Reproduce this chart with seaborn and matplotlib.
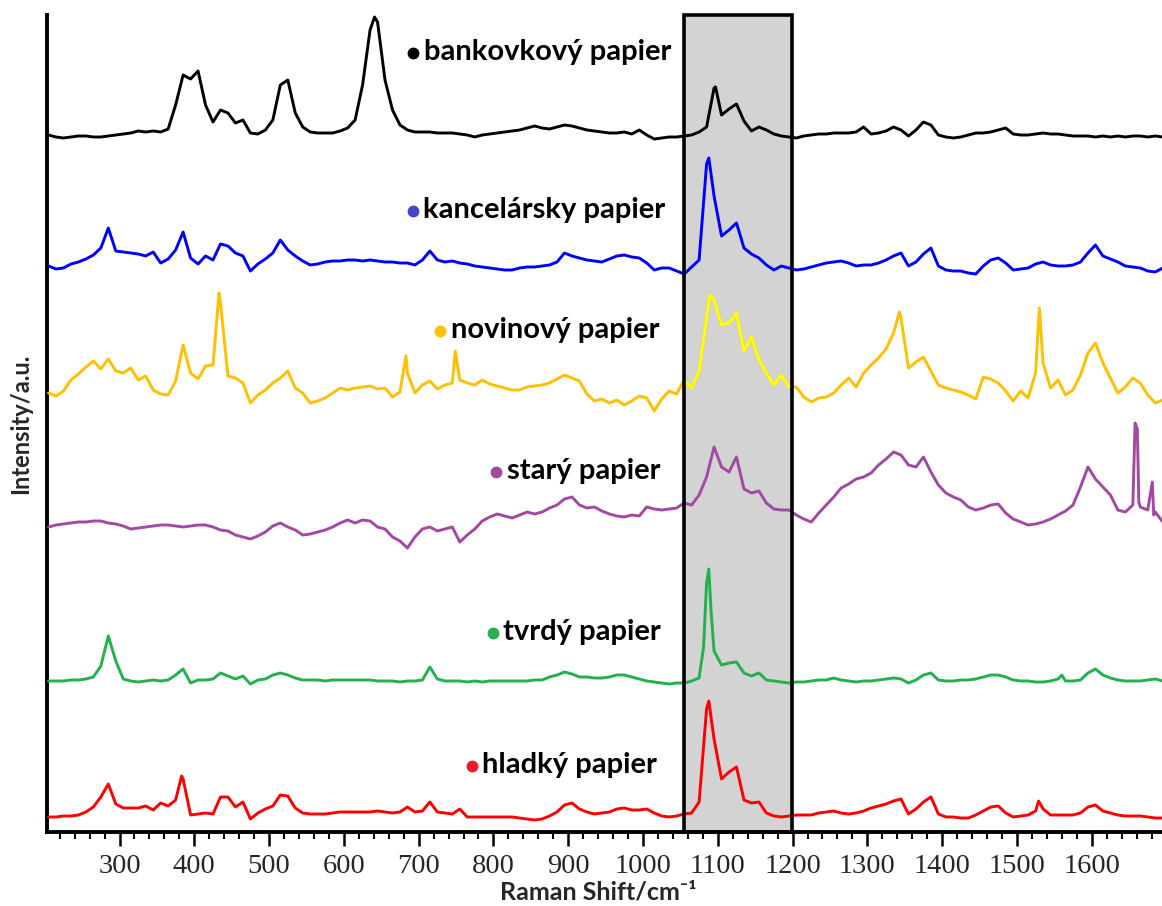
import numpy as np
import pandas as pd
import matplotlib
matplotlib.use("Agg")
import matplotlib.pyplot as plt
import seaborn as sns
from matplotlib.ticker import MultipleLocator

# Raman shift grid (cm^-1) shared by all spectra
shift = np.arange(205, 1700, 10)

labels = ["bankovkový papier", "kancelársky papier", "novinový papier",
          "starý papier", "tvrdý papier", "hladký papier"]

# Baseline-corrected intensities (a.u.) on the shared grid, one list per paper
bankovkovy = [
    0, -2, -3, -2, -1, -1, -2, -2, -1, 0,
    1, 2, 4, 3, 4, 3, 6, 30, 60, 56,
    64, 30, 13, 25, 22, 12, 15, 2, 1, 5,
    15, 50, 55, 22, 8, 3, 2, 2, 2, 4,
    7, 15, 50, 105, 113, 55, 25, 10, 5, 3,
    3, 3, 2, 2, 2, 1, 0, -2, 0, 1,
    2, 3, 4, 5, 7, 9, 7, 6, 8, 10,
    9, 7, 5, 4, 3, 2, 2, 3, 1, 5,
    0, -4, -3, -2, -2, -1, 0, 3, 8, 47,
    20, 26, 31, 14, 4, 8, 5, 1, -1, -2,
    -3, -1, 0, 1, 1, 2, 2, 2, 3, 8,
    1, 2, 4, 8, 5, -1, 5, 13, 10, 0,
    -2, -3, -2, 0, 2, 2, 3, 5, 7, 1,
    0, 0, 1, 2, 1, 1, 0, -1, -1, -1,
    -2, -1, -2, -1, -2, -1, -1, -2, -1, -2,
]
kancelarsky = [
    2, -1, 0, 4, 6, 9, 13, 20, 40, 17,
    16, 15, 14, 12, 16, 5, 9, 18, 36, 10,
    4, 12, 8, 24, 22, 15, 12, -3, 4, 9,
    15, 28, 18, 12, 7, 3, 4, 6, 7, 7,
    8, 8, 7, 8, 7, 6, 6, 5, 5, 3,
    8, 17, 8, 6, 7, 5, 4, 2, 1, 0,
    -1, -2, -2, 0, 1, 1, 2, 3, 6, 15,
    12, 10, 8, 7, 6, 9, 12, 13, 11, 10,
    5, -2, 0, 0, -3, -6, 1, 8, 104, 72,
    32, 38, 45, 20, 14, 10, 3, -2, 2, 0,
    -2, -1, 1, 3, 5, 6, 7, 5, 2, 3,
    3, 5, 8, 12, 15, 2, 6, 14, 20, 2,
    -2, -3, -3, -5, -6, 2, 8, 10, 5, -2,
    -1, 0, 4, 6, 3, 2, 2, 3, 6, 15,
    23, 12, 9, 6, 2, 1, 0, -3, -4, 0,
]
novinovy = [
    0, -3, 2, 13, 19, 26, 32, 24, 34, 22,
    20, 25, 13, 17, 3, -1, -2, 12, 48, 20,
    14, 27, 28, 90, 17, 15, 10, -10, -2, 3,
    10, 15, 22, 5, 0, -10, -8, -5, 0, 5,
    3, 5, 6, 7, 4, 5, -4, 1, 20, 0,
    8, 12, 4, 8, 10, 13, 10, 8, 13, 9,
    7, 5, 3, 3, 6, 7, 8, 10, 14, 18,
    15, 12, -1, -8, -6, -10, -7, -12, -8, -3,
    -5, -18, -6, 2, -1, 13, 5, 22, 75, 93,
    68, 70, 80, 42, 56, 33, 20, 8, 18, 6,
    6, -4, -9, -5, -4, 0, 8, 15, 6, 20,
    28, 35, 44, 60, 75, 25, 31, 36, 22, 8,
    5, 3, 1, -2, -6, 16, 14, 10, 2, -8,
    2, -5, 20, 30, 5, 13, -2, 3, 18, 40,
    50, 30, 15, 0, 6, 15, 10, -2, -10, -7,
]
stary = [
    0, 2, 3, 4, 5, 5, 6, 6, 4, 3,
    1, -2, -1, 0, 1, 2, 2, 1, 0, 1,
    2, 2, 0, -3, -4, -8, -10, -12, -9, -5,
    1, 4, 0, -3, -8, -7, -5, -3, 0, 4,
    7, 4, 7, 6, 0, -2, -10, -14, -21, -10,
    -2, 0, -4, -2, 0, -15, -8, -2, 6, 10,
    13, 11, 9, 12, 15, 13, 15, 19, 22, 28,
    30, 22, 19, 20, 16, 13, 11, 10, 12, 11,
    20, 18, 17, 18, 19, 24, 22, 32, 50, 80,
    60, 55, 70, 38, 34, 36, 24, 18, 17, 17,
    12, 8, 5, 14, 22, 30, 39, 43, 48, 50,
    54, 62, 68, 75, 72, 62, 60, 70, 55, 42,
    34, 30, 27, 20, 17, 19, 22, 23, 14, 8,
    5, 2, 3, 5, 8, 12, 16, 22, 40, 60,
    48, 40, 32, 17, 15, 22, 20, 17, 15, 5,
]
tvrdy = [
    0, 0, 0, 1, 1, 2, 4, 15, 45, 20,
    2, 0, -1, 0, 1, 0, 1, 6, 12, -2,
    1, 1, 2, 8, 5, 2, 5, -3, 1, 2,
    6, 8, 6, 3, 1, 1, 1, 0, 1, 1,
    1, 1, 1, 1, 0, 0, 0, -1, 0, 0,
    1, 14, 2, 0, 0, 0, -1, 0, -1, 0,
    0, 0, 0, 0, 0, 1, 1, 4, 6, 9,
    7, 4, 4, 3, 3, 4, 6, 6, 4, 2,
    0, -1, -2, -3, -2, -2, 0, 3, 98, 30,
    16, 18, 19, 8, 5, 8, 1, 0, -1, -2,
    -1, -1, 0, 1, 1, 3, 1, 0, -1, 0,
    0, 1, 2, 3, 2, -2, 1, 6, 8, 1,
    0, 0, 1, 1, 2, 4, 6, 6, 4, 1,
    0, 0, -1, -1, 0, 2, 0, 0, 1, 8,
    12, 6, 3, 1, 0, 0, 0, 1, 2, 0,
]
hladky = [
    0, 0, 1, 1, 2, 5, 10, 20, 33, 13,
    9, 9, 9, 11, 7, 14, 11, 17, 38, 2,
    3, 4, 3, 20, 20, 10, 15, -2, 4, 8,
    11, 22, 21, 9, 4, 3, 3, 3, 4, 5,
    5, 5, 5, 5, 6, 5, 4, 5, 10, 5,
    6, 15, 5, 4, 3, 8, 0, 0, 0, 0,
    0, 0, 0, -1, -2, -3, -2, 1, 5, 12,
    14, 8, 5, 3, 4, 5, 8, 9, 7, 7,
    8, 4, 1, 0, 1, 3, 4, 15, 108, 78,
    38, 45, 50, 17, 14, 15, 4, 1, 0, 1,
    2, 2, 2, 4, 5, 6, 4, 3, 4, 6,
    9, 11, 13, 16, 18, 3, 8, 15, 20, 3,
    0, 0, -1, -1, 2, 6, 10, 11, 4, 0,
    1, 2, 6, 8, 2, 2, 2, 2, 4, 10,
    12, 6, 4, 2, 1, 1, 1, 0, -1, -1,
]

# Sharp bands that fall between grid points: (shift, intensity)
bankovkovy_bands_x, bankovkovy_bands_y = [641, 1097], [118, 48]
kancelarsky_bands_x, kancelarsky_bands_y = [1088], [110]
novinovy_bands_x = [433, 683, 749, 1089, 1343, 1527, 1530]
novinovy_bands_y = [100, 37, 42, 98, 81, 46, 85]
stary_bands_x, stary_bands_y = [1658, 1661, 1663, 1681, 1683], [104, 98, 25, 45, 12]
tvrdy_bands_x, tvrdy_bands_y = [1081, 1088, 1091, 1560], [34, 112, 70, 6]
hladky_bands_x, hladky_bands_y = [383, 1088, 1529], [41, 116, 16]

# Vertical stacking offsets of the spectra
offsets = [697, 564, 439, 305, 151, 15]

line_colors = ["#000000", "#0000FF", "#FFC000", "#A349A4", "#22B14C", "#FF0000"]
dot_colors = ["#000000", "#4646C8", "#FFC000", "#A349A4", "#22B14C", "#ED1C24"]
box_line_color = "#FFFF00"   # newsprint trace inside the highlighted band

spectra = [bankovkovy, kancelarsky, novinovy, stary, tvrdy, hladky]
bands = [(bankovkovy_bands_x, bankovkovy_bands_y),
         (kancelarsky_bands_x, kancelarsky_bands_y),
         (novinovy_bands_x, novinovy_bands_y),
         (stary_bands_x, stary_bands_y),
         (tvrdy_bands_x, tvrdy_bands_y),
         (hladky_bands_x, hladky_bands_y)]

# Label anchors (shift, intensity) for the text next to each spectrum
label_x = [707, 706, 743, 818, 813, 785]
label_y = [772, 614, 494, 353, 192, 59]

band_lo, band_hi = 1055, 1199

sns.set_theme(style="ticks")
plt.rcParams["font.family"] = ["Lato", "DejaVu Sans"]

fig = plt.figure(figsize=(11.62, 9.06), dpi=100)
ax = fig.add_axes([47 / 1162, 1 - 832 / 906, 1 - 47 / 1162, (832 - 15) / 906])

# highlighted region
ax.axvspan(band_lo, band_hi, ymin=0, ymax=1, facecolor="#D3D3D3",
           edgecolor="none", zorder=1)
ax.axvspan(band_lo, band_hi, ymin=0, ymax=1, facecolor="none",
           edgecolor="black", linewidth=2.6, zorder=5, clip_on=False)

frames = []
for name, vals, (bx, by), off in zip(labels, spectra, bands, offsets):
    df = pd.DataFrame({"shift": np.concatenate([shift, bx]),
                       "intensity": np.concatenate([vals, by]) + off})
    df = df.sort_values("shift").reset_index(drop=True)
    df["paper"] = name
    frames.append(df)

for df, col in zip(frames, line_colors):
    sns.lineplot(data=df, x="shift", y="intensity", color=col, linewidth=2.1,
                 estimator=None, ax=ax, zorder=3)

# newsprint spectrum inside the band in a brighter yellow
news = frames[2]
seg = news[(news["shift"] >= band_lo - 3) & (news["shift"] <= band_hi + 3)]
sns.lineplot(data=seg, x="shift", y="intensity", color=box_line_color,
             linewidth=2.1, estimator=None, ax=ax, zorder=4)

# labels with coloured bullets
for name, lx, ly, dc in zip(labels, label_x, label_y, dot_colors):
    ax.text(lx, ly, name, fontsize=21, fontweight="bold", color="black",
            ha="left", va="baseline", zorder=6)
    ax.plot([lx - 14], [ly + 7], marker="o", markersize=7.5, color=dc,
            linestyle="none", zorder=6)

ax.set_xlim(203, 1694)
ax.set_ylim(0, 817)

ax.xaxis.set_major_locator(MultipleLocator(100))
ax.xaxis.set_minor_locator(MultipleLocator(20))
ax.set_xticks(np.arange(300, 1700, 100))
ax.set_yticks([])
ax.tick_params(axis="x", which="major", direction="out", length=10, width=1.8,
               pad=6, labelsize=20.5, color="black")
ax.tick_params(axis="x", which="minor", direction="out", length=5, width=1.5,
               color="black")
for lab in ax.get_xticklabels():
    lab.set_fontfamily("Liberation Serif")

for side in ["top", "right"]:
    ax.spines[side].set_visible(False)
for side in ["left", "bottom"]:
    ax.spines[side].set_linewidth(2.8)
    ax.spines[side].set_color("black")

ax.set_xlabel("Raman Shift/cm⁻¹", fontsize=18, fontweight="bold")
ax.set_ylabel("Intensity/a.u.", fontsize=17, fontweight="bold")
ax.xaxis.set_label_coords(0.494, -0.059)
ax.yaxis.set_label_coords(-0.013, 0.5)
ax.xaxis.label.set_verticalalignment("top")

fig.savefig("out.png", dpi=100)
